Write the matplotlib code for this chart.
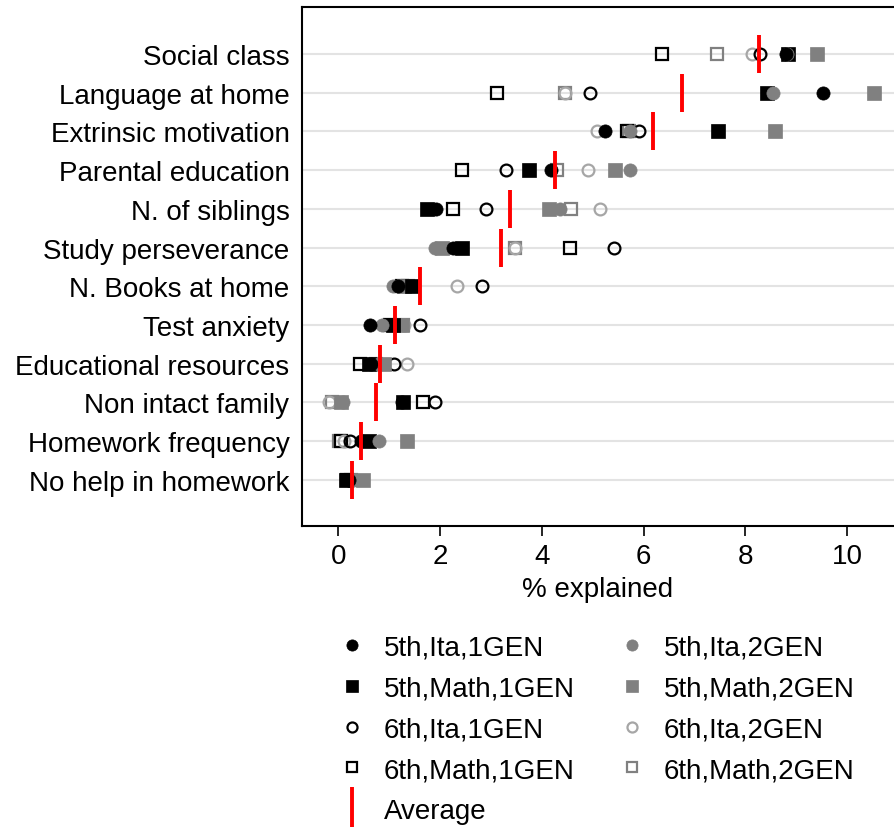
"""
Decomposition dot chart: % explained by each factor, 5th/6th grade, 1GEN/2GEN.
"""
import matplotlib
matplotlib.use('Agg')
import matplotlib.pyplot as plt
from matplotlib.lines import Line2D
import numpy as np

plt.rcParams['font.family'] = ['Liberation Sans', 'DejaVu Sans']

factors = ['Social class', 'Language at home', 'Extrinsic motivation',
           'Parental education', 'N. of siblings', 'Study perseverance',
           'N. Books at home', 'Test anxiety', 'Educational resources',
           'Non intact family', 'Homework frequency', 'No help in homework']

ita5_1 = [8.80, 9.52, 5.25, 4.18, 1.93, 2.26, 1.17, 0.62, 0.65, 1.25, 0.44, 0.22]
ita5_2 = [8.82, 8.54, 5.74, 5.74, 4.36, 1.91, 1.07, 0.86, 0.80, 0.10, 0.81, 0.30]
math5_1 = [8.84, 8.42, 7.47, 3.75, 1.74, 2.44, 1.45, 1.07, 0.60, 1.27, 0.60, 0.16]
math5_2 = [9.40, 10.53, 8.59, 5.44, 4.15, 2.05, 1.30, 1.26, 0.90, 0.05, 1.36, 0.49]
ita6_1 = [8.29, 4.95, 5.91, 3.29, 2.91, 5.42, 2.83, 1.60, 1.09, 1.90, 0.24, 0.22]
ita6_2 = [8.13, 4.45, 5.09, 4.91, 5.15, 3.48, 2.34, 1.30, 1.36, -0.18, 0.11, 0.28]
math6_1 = [6.36, 3.12, 5.67, 2.43, 2.25, 4.56, 1.26, 1.01, 0.42, 1.66, 0.06, 0.18]
math6_2 = [7.45, 4.45, 5.72, 4.30, 4.57, 3.48, 1.38, 1.28, 0.75, -0.12, 0.02, 0.26]

# (label, values, marker, face, edge)
series = [
    ('5th,Ita,1GEN', ita5_1, 'o', 'black', 'black'),
    ('5th,Ita,2GEN', ita5_2, 'o', '#808080', '#808080'),
    ('5th,Math,1GEN', math5_1, 's', 'black', 'black'),
    ('5th,Math,2GEN', math5_2, 's', '#808080', '#808080'),
    ('6th,Ita,1GEN', ita6_1, 'o', 'none', 'black'),
    ('6th,Ita,2GEN', ita6_2, 'o', 'none', '#a6a6a6'),
    ('6th,Math,1GEN', math6_1, 's', 'none', 'black'),
    ('6th,Math,2GEN', math6_2, 's', 'none', '#808080'),
]

avg = np.mean([s[1] for s in series], axis=0)
ypos = np.arange(len(factors))

fig = plt.figure(figsize=(8.94, 8.28), dpi=100)
ax = fig.add_axes([302 / 894, (828 - 527) / 828, 592 / 894, 519 / 828])

for y in ypos:
    ax.axhline(y, color='#e3e3e3', lw=1.5, zorder=0)

handles = {}
# last series in the legend go underneath
for label, vals, mk, fc, ec in reversed(series):
    ms = 9.5 if fc != 'none' else 8.5
    h, = ax.plot(vals, ypos, linestyle='none', marker=mk, markersize=ms,
                 markerfacecolor=fc, markeredgecolor=ec,
                 markeredgewidth=1.6 if fc == 'none' else 0.5, zorder=3)
    handles[label] = h

ax.plot(avg, ypos, linestyle='none', marker='|', markersize=28,
        markeredgewidth=2.8, color='red', zorder=4)

ax.set_yticks(ypos)
ax.set_yticklabels(factors, fontsize=20)
ax.set_ylim(12.19, -1.21)
ax.set_xlim(-0.71, 10.92)
ax.set_xticks([0, 2, 4, 6, 8, 10])
ax.tick_params(axis='x', labelsize=20, length=7, width=1.2, pad=5)
ax.tick_params(axis='y', length=0, pad=9)
ax.set_xlabel('% explained', fontsize=20, labelpad=5.5)

for sp in ['left', 'bottom', 'top']:
    ax.spines[sp].set_linewidth(1.5)
ax.spines['right'].set_visible(False)

avg_handle = Line2D([], [], linestyle='none', marker='|', markersize=36,
                    markeredgewidth=2.8, color='red')
order = ['5th,Ita,1GEN', '5th,Math,1GEN', '6th,Ita,1GEN', '6th,Math,1GEN']
order2 = ['5th,Ita,2GEN', '5th,Math,2GEN', '6th,Ita,2GEN', '6th,Math,2GEN']
leg_h = [handles[k] for k in order] + [avg_handle] + [handles[k] for k in order2]
leg_l = order + ['Average'] + order2
fig.legend(leg_h, leg_l, ncol=2, loc='upper left',
           bbox_to_anchor=(310 / 894, 1 - 611 / 828), frameon=False,
           fontsize=20, markerscale=0.85, handlelength=1.2, handletextpad=0.55,
           columnspacing=1.45, labelspacing=0.53)

plt.savefig('out.png', dpi=100)
